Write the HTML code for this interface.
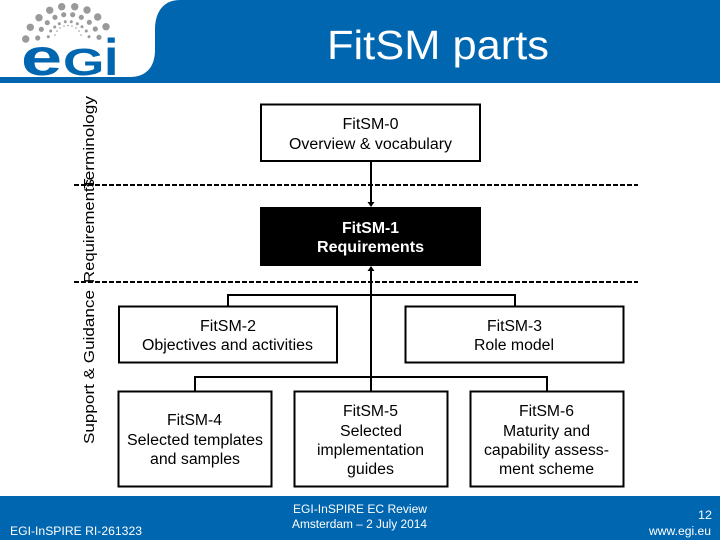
<!DOCTYPE html>
<html><head><meta charset="utf-8"><style>
html,body{margin:0;padding:0;background:#fff}
svg{display:block}
text{font-family:"Liberation Sans",sans-serif}
</style></head><body>
<svg width="720" height="540" viewBox="0 0 720 540" xmlns="http://www.w3.org/2000/svg">
<rect width="720" height="540" fill="#fff"/>
<path d="M130 77 C147 77 155 66 155 50 L155 30 C155 10 165 0 180 0 L720 0 L720 83 L0 83 L0 77 Z" fill="#0066b0"/>
<rect x="0" y="496" width="720" height="44" fill="#0066b0"/>
<g fill="#9a9a9a">
<circle cx="25.7" cy="39" r="3.7"/><circle cx="30.3" cy="27.3" r="3.7"/><circle cx="39" cy="17.7" r="3.7"/><circle cx="49.7" cy="10.3" r="3.7"/><circle cx="61.7" cy="6.7" r="3.7"/><circle cx="74.7" cy="6.7" r="3.7"/><circle cx="87" cy="10" r="3.7"/><circle cx="97.7" cy="17" r="3.7"/><circle cx="106" cy="26.7" r="3.7"/>
<circle cx="37.7" cy="38" r="2.6"/><circle cx="41.3" cy="29.3" r="2.6"/><circle cx="47.3" cy="22.7" r="2.6"/><circle cx="55" cy="17.3" r="2.6"/><circle cx="63.7" cy="14.7" r="2.6"/><circle cx="72.7" cy="14.7" r="2.6"/><circle cx="81.3" cy="17.3" r="2.6"/><circle cx="89.3" cy="22.3" r="2.6"/><circle cx="95.3" cy="29" r="2.6"/><circle cx="99" cy="37.3" r="2.6"/>
<circle cx="48.3" cy="36.7" r="1.5"/><circle cx="50.7" cy="31" r="1.5"/><circle cx="54.7" cy="27" r="1.5"/><circle cx="59.3" cy="23.7" r="1.5"/><circle cx="65.3" cy="21.7" r="1.5"/><circle cx="71.3" cy="21.7" r="1.5"/><circle cx="77.3" cy="23.7" r="1.5"/><circle cx="82" cy="26.7" r="1.5"/><circle cx="86.3" cy="31" r="1.5"/><circle cx="89" cy="36.7" r="1.5"/>
<circle cx="55" cy="35" r=".8"/><circle cx="57" cy="31" r=".8"/><circle cx="60" cy="28" r=".8"/><circle cx="64" cy="26" r=".8"/><circle cx="68" cy="25.5" r=".8"/><circle cx="72" cy="26" r=".8"/><circle cx="76" cy="28" r=".8"/><circle cx="79" cy="31" r=".8"/><circle cx="81" cy="35" r=".8"/>
</g>
<g fill="#0066b0" font-weight="bold">
<text transform="translate(21 75) scale(1.42 1)" font-size="52">e</text>
<text transform="translate(63 75) scale(1.4 1)" font-size="38">G</text>
<text x="104" y="75" font-size="52">i</text>
</g>
<text x="327" y="59" font-size="41" fill="#fff" textLength="222" lengthAdjust="spacingAndGlyphs">FitSM parts</text>

<g fill="none" stroke="#000" stroke-width="2">
<rect x="261" y="104.500" width="219" height="56.500"/>
<rect x="119" y="306.500" width="218" height="56"/>
<rect x="405.500" y="306.500" width="218" height="56"/>
<rect x="118.500" y="391.500" width="153" height="95"/>
<rect x="294.500" y="391.500" width="153" height="95"/>
<rect x="470.500" y="391.500" width="153" height="95"/>
<path d="M228 306V295H515V306"/>
<path d="M195 391V377H547V391"/>
<path d="M371 377V391"/>
<path d="M371 161V202"/>
<path d="M371 295V271"/>
<path d="M371 377V295"/>
</g>
<rect x="260" y="207" width="221" height="59" fill="#000"/>
<path d="M371 207L367.500 202H374.500Z M371 266L367.500 271H374.500Z" fill="#000"/>
<g stroke="#000" stroke-width="2" stroke-dasharray="5 2" fill="none">
<path d="M74 185H638"/>
<path d="M74 282H638"/>
</g>

<g font-size="15" fill="#000">
<text transform="translate(94 444) rotate(-90)" textLength="154" lengthAdjust="spacingAndGlyphs">Support &amp; Guidance</text>
<text transform="translate(94 283) rotate(-90)" textLength="104" lengthAdjust="spacingAndGlyphs">Requirements</text>
<text transform="translate(94 189) rotate(-90)" textLength="93" lengthAdjust="spacingAndGlyphs">Terminology</text>
</g>

<g font-size="15.500" fill="#000">
<text x="342.500" y="129" textLength="56" lengthAdjust="spacingAndGlyphs">FitSM-0</text>
<text x="289" y="149" textLength="163" lengthAdjust="spacingAndGlyphs">Overview &amp; vocabulary</text>
<text x="200" y="331" textLength="56" lengthAdjust="spacingAndGlyphs">FitSM-2</text>
<text x="142" y="350" textLength="171" lengthAdjust="spacingAndGlyphs">Objectives and activities</text>
<text x="487" y="331" textLength="55" lengthAdjust="spacingAndGlyphs">FitSM-3</text>
<text x="474" y="350" textLength="80" lengthAdjust="spacingAndGlyphs">Role model</text>
<text x="167" y="425" textLength="55" lengthAdjust="spacingAndGlyphs">FitSM-4</text>
<text x="127" y="445" textLength="136" lengthAdjust="spacingAndGlyphs">Selected templates</text>
<text x="150" y="464" textLength="90" lengthAdjust="spacingAndGlyphs">and samples</text>
<text x="343" y="416" textLength="55" lengthAdjust="spacingAndGlyphs">FitSM-5</text>
<text x="340" y="436" textLength="62" lengthAdjust="spacingAndGlyphs">Selected</text>
<text x="317" y="455" textLength="107" lengthAdjust="spacingAndGlyphs">implementation</text>
<text x="347" y="474" textLength="47" lengthAdjust="spacingAndGlyphs">guides</text>
<text x="519" y="416" textLength="55" lengthAdjust="spacingAndGlyphs">FitSM-6</text>
<text x="503" y="436" textLength="87" lengthAdjust="spacingAndGlyphs">Maturity and</text>
<text x="484" y="455" textLength="125" lengthAdjust="spacingAndGlyphs">capability assess-</text>
<text x="499" y="474" textLength="95" lengthAdjust="spacingAndGlyphs">ment scheme</text>
</g>
<g font-size="15.500" fill="#fff" font-weight="bold">
<text x="342" y="233" textLength="57" lengthAdjust="spacingAndGlyphs">FitSM-1</text>
<text x="317" y="252" textLength="107" lengthAdjust="spacingAndGlyphs">Requirements</text>
</g>

<g font-size="11.500" fill="#fff">
<text x="10" y="535" textLength="132" lengthAdjust="spacingAndGlyphs">EGI-InSPIRE RI-261323</text>
<text x="293" y="513" textLength="134" lengthAdjust="spacingAndGlyphs">EGI-InSPIRE EC Review</text>
<text x="292" y="528" textLength="135" lengthAdjust="spacingAndGlyphs">Amsterdam – 2 July 2014</text>
<text x="698" y="519" textLength="14" lengthAdjust="spacingAndGlyphs">12</text>
<text x="649" y="535" textLength="62" lengthAdjust="spacingAndGlyphs">www.egi.eu</text>
</g>
</svg>
</body></html>
